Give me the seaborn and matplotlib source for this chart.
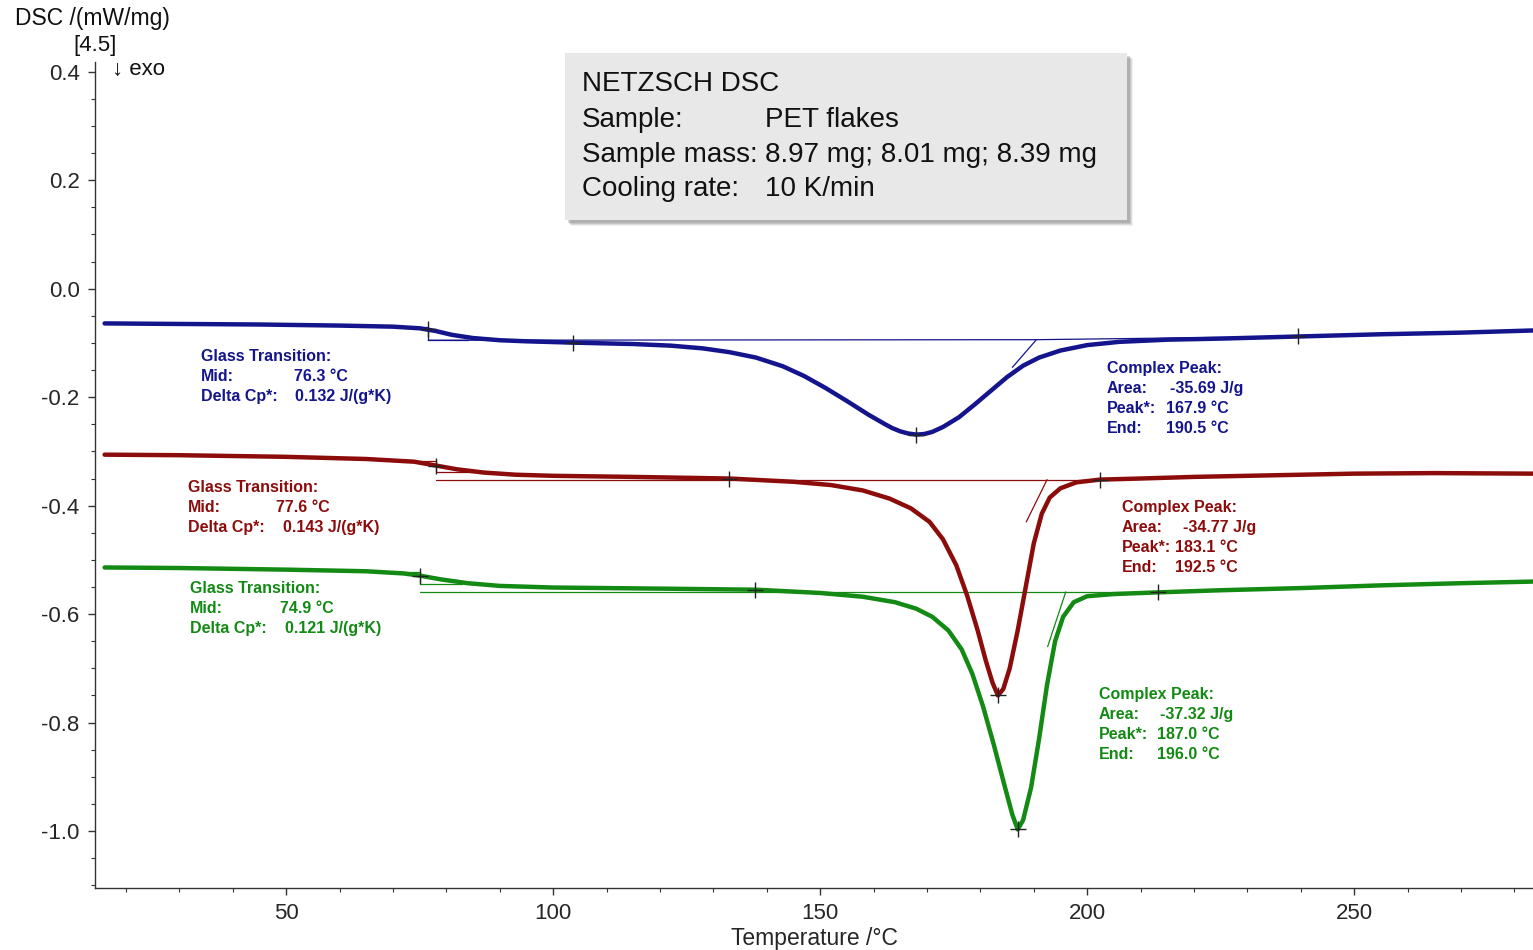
import numpy as np
import pandas as pd
import matplotlib
matplotlib.use("Agg")
import matplotlib.pyplot as plt
import seaborn as sns
from matplotlib.patches import Rectangle
from matplotlib.ticker import MultipleLocator, FormatStrFormatter

# ---------------- data ----------------
blue_T = [16, 30, 45, 60, 70, 75, 78, 81, 85, 90, 95, 104, 115, 122, 128, 133, 138, 143, 147, 151,
          155, 159, 162, 163.5, 165, 166.5, 168, 169.5, 171, 173, 176, 179, 182, 185, 188, 191, 195,
          200, 206, 215, 225, 240, 255, 270, 283.5]
blue_dsc = [-0.064, -0.065, -0.066, -0.068, -0.070, -0.073, -0.078, -0.085, -0.091, -0.095, -0.097,
            -0.0995, -0.102, -0.105, -0.110, -0.117, -0.127, -0.143, -0.161, -0.183, -0.207, -0.232,
            -0.249, -0.257, -0.263, -0.267, -0.269, -0.268, -0.264, -0.255, -0.237, -0.213, -0.188,
            -0.163, -0.142, -0.127, -0.114, -0.104, -0.098, -0.094, -0.092, -0.088, -0.084, -0.081,
            -0.077]

red_T = [16, 30, 50, 65, 74, 78, 82, 87, 93, 100, 115, 133, 145, 152, 158, 163, 167, 170.5, 173,
         175.5, 177.5, 179.5, 181, 182.3, 183.3, 184.3, 185.5, 187, 188.5, 190, 191.5, 193, 195, 198,
         202.4, 210, 220, 235, 250, 265, 283.5]
red_dsc = [-0.306, -0.307, -0.310, -0.314, -0.319, -0.326, -0.333, -0.339, -0.343, -0.345, -0.347,
           -0.350, -0.356, -0.362, -0.372, -0.387, -0.405, -0.430, -0.462, -0.510, -0.565, -0.630,
           -0.685, -0.727, -0.750, -0.738, -0.700, -0.630, -0.550, -0.470, -0.415, -0.385, -0.368,
           -0.357, -0.352, -0.350, -0.347, -0.344, -0.341, -0.340, -0.341]

green_T = [16, 30, 50, 65, 72, 75, 79, 84, 90, 100, 120, 138, 150, 158, 164, 168, 171, 174, 176.5,
           178.5, 180.5, 182.5, 184.5, 186, 187, 188, 189.5, 191, 192.5, 194, 195.5, 197.5, 200, 205,
           213, 225, 240, 255, 270, 283.5]
green_dsc = [-0.514, -0.515, -0.518, -0.521, -0.525, -0.529, -0.536, -0.543, -0.548, -0.551, -0.553,
             -0.555, -0.561, -0.568, -0.578, -0.590, -0.605, -0.630, -0.665, -0.710, -0.770, -0.840,
             -0.915, -0.970, -0.997, -0.980, -0.920, -0.830, -0.730, -0.650, -0.605, -0.578, -0.567,
             -0.563, -0.560, -0.556, -0.552, -0.547, -0.543, -0.540]

samples = ["Sample 1", "Sample 2", "Sample 3"]
colors = ["#14148c", "#8c0c0c", "#138a13"]

# evaluation markers (+)
blue_marks_T = [76.6, 103.7, 168.0, 239.5]
blue_marks_y = [-0.074, -0.0995, -0.269, -0.088]
red_marks_T = [78.0, 133.0, 183.3, 202.4]
red_marks_y = [-0.326, -0.350, -0.750, -0.352]
green_marks_T = [75.1, 137.8, 187.0, 213.3]
green_marks_y = [-0.529, -0.555, -0.997, -0.560]

# construction lines (baselines / tangents / glass-transition steps)
blue_base_T = [76.6, 190.5, 239.5]
blue_base_y = [-0.095, -0.094, -0.088]
blue_tan_T = [186.0, 190.5]
blue_tan_y = [-0.145, -0.094]
blue_step_T = [70.0, 76.6, 76.6, 84.0]
blue_step_y = [-0.071, -0.071, -0.095, -0.095]

red_base_T = [78.0, 202.4]
red_base_y = [-0.352, -0.352]
red_tan_T = [188.6, 192.5]
red_tan_y = [-0.43, -0.352]
red_step_T = [72.0, 78.0, 78.0, 86.0]
red_step_y = [-0.318, -0.318, -0.338, -0.338]

green_base_T = [75.1, 213.3]
green_base_y = [-0.559, -0.559]
green_tan_T = [192.6, 196.0]
green_tan_y = [-0.66, -0.559]
green_step_T = [69.0, 75.1, 75.1, 83.0]
green_step_y = [-0.523, -0.523, -0.545, -0.545]

yticks = [0.4, 0.2, 0.0, -0.2, -0.4, -0.6, -0.8, -1.0]
xticks = [50, 100, 150, 200, 250]

gt_labels = ["Glass Transition:", "Mid:", "Delta Cp*:"]
gt_values = [["76.3 °C", "0.132 J/(g*K)"], ["77.6 °C", "0.143 J/(g*K)"], ["74.9 °C", "0.121 J/(g*K)"]]
cp_labels = ["Complex Peak:", "Area:", "Peak*:", "End:"]
cp_values = [["-35.69 J/g", "167.9 °C", "190.5 °C"],
             ["-34.77 J/g", "183.1 °C", "192.5 °C"],
             ["-37.32 J/g", "187.0 °C", "196.0 °C"]]

info_keys = ["Sample:", "Sample mass:", "Cooling rate:"]
info_vals = ["PET flakes", "8.97 mg; 8.01 mg; 8.39 mg", "10 K/min"]

# ---------------- style ----------------
sns.set_style("ticks")
plt.rcParams["font.family"] = ["Liberation Sans", "DejaVu Sans"]
plt.rcParams["axes.unicode_minus"] = False

fig = plt.figure(figsize=(15.33, 9.5), dpi=100)
ax = fig.add_axes([95 / 1533, 1 - 888 / 950, 1 - 95 / 1533, (888 - 62) / 950])

df = pd.concat([
    pd.DataFrame({"T": blue_T, "DSC": blue_dsc, "sample": samples[0]}),
    pd.DataFrame({"T": red_T, "DSC": red_dsc, "sample": samples[1]}),
    pd.DataFrame({"T": green_T, "DSC": green_dsc, "sample": samples[2]}),
])

# construction lines (thin)
for (bt, by, tt, ty, st, sy), c in zip(
        [(blue_base_T, blue_base_y, blue_tan_T, blue_tan_y, blue_step_T, blue_step_y),
         (red_base_T, red_base_y, red_tan_T, red_tan_y, red_step_T, red_step_y),
         (green_base_T, green_base_y, green_tan_T, green_tan_y, green_step_T, green_step_y)], colors):
    ax.plot(bt, by, color=c, lw=0.9, zorder=2)
    ax.plot(tt, ty, color=c, lw=0.9, zorder=2)
    ax.plot(st, sy, color=c, lw=0.9, zorder=2)

sns.lineplot(data=df, x="T", y="DSC", hue="sample", palette=colors, sort=False,
             estimator=None, linewidth=3.2, legend=False, ax=ax, zorder=3)
for ln in ax.get_lines():
    ln.set_solid_joinstyle("round")
    ln.set_solid_capstyle("round")

for mt, my in [(blue_marks_T, blue_marks_y), (red_marks_T, red_marks_y), (green_marks_T, green_marks_y)]:
    ax.scatter(mt, my, marker="+", s=120, color="#222222", linewidths=1.0, zorder=5)

ax.set_xlim(14.2, 283.5)
ax.set_ylim(-1.105, 0.418)
ax.set_xticks(xticks)
ax.set_yticks(yticks)
ax.xaxis.set_minor_locator(MultipleLocator(10))
ax.yaxis.set_minor_locator(MultipleLocator(0.05))
ax.yaxis.set_major_formatter(FormatStrFormatter("%.1f"))
ax.tick_params(axis="both", which="major", labelsize=16, length=5, width=1, direction="out", color="#333333", pad=6)
ax.tick_params(axis="both", which="minor", length=3, width=0.8, direction="out", color="#333333")
for s in ["top", "right"]:
    ax.spines[s].set_visible(False)
for s in ["left", "bottom"]:
    ax.spines[s].set_linewidth(1.0)
    ax.spines[s].set_color("#333333")
ax.set_xlabel("Temperature /°C", fontsize=16.5, labelpad=2)
ax.set_ylabel("")

# ---------------- annotations ----------------
fs = 11.5
lh = 0.0369
gt_pos = [(34.1, -0.125, 51.5, 51.7), (31.6, -0.367, 48.1, 49.4), (32.0, -0.553, 48.8, 49.7)]
for (x0, y0, xv1, xv2), vals, c in zip(gt_pos, gt_values, colors):
    ax.text(x0, y0, gt_labels[0], color=c, fontsize=fs, fontweight="bold", va="center")
    ax.text(x0, y0 - lh, gt_labels[1], color=c, fontsize=fs, fontweight="bold", va="center")
    ax.text(x0, y0 - 2 * lh, gt_labels[2], color=c, fontsize=fs, fontweight="bold", va="center")
    ax.text(xv1, y0 - lh, vals[0], color=c, fontsize=fs, fontweight="bold", va="center")
    ax.text(xv2, y0 - 2 * lh, vals[1], color=c, fontsize=fs, fontweight="bold", va="center")

cp_pos = [(203.7, -0.147, 215.5, 214.7), (206.5, -0.403, 217.9, 216.4), (202.2, -0.749, 213.6, 213.0)]
for (x0, y0, xa, xv), vals, c in zip(cp_pos, cp_values, colors):
    ax.text(x0, y0, cp_labels[0], color=c, fontsize=fs, fontweight="bold", va="center")
    for i in range(1, 4):
        ax.text(x0, y0 - i * lh, cp_labels[i], color=c, fontsize=fs, fontweight="bold", va="center")
    ax.text(xa, y0 - lh, vals[0], color=c, fontsize=fs, fontweight="bold", va="center")
    ax.text(xv, y0 - 2 * lh, vals[1], color=c, fontsize=fs, fontweight="bold", va="center")
    ax.text(xv, y0 - 3 * lh, vals[2], color=c, fontsize=fs, fontweight="bold", va="center")

# header texts
fig.text(15 / 1533, 1 - 19 / 950, "DSC /(mW/mg)", fontsize=16.5, va="center", ha="left", color="#111111")
fig.text(95 / 1533, 1 - 46 / 950, "[4.5]", fontsize=16, va="center", ha="center", color="#111111")
fig.text(112 / 1533, 1 - 70 / 950, "↓ exo", fontsize=16, va="center", ha="left", color="#111111",
         family=["Liberation Sans", "DejaVu Sans"])

# info box with soft shadow
W = (1127 - 565) / 1533
H = (220 - 53) / 950
for k, a in [(6, 0.10), (5, 0.15), (4, 0.20), (3, 0.25)]:
    fig.patches.append(Rectangle(((565 + k) / 1533, 1 - (220 + k) / 950), W, H,
                                 transform=fig.transFigure, facecolor="#707070", edgecolor="none",
                                 alpha=a, zorder=1))
fig.patches.append(Rectangle((565 / 1533, 1 - 220 / 950), W, H,
                             transform=fig.transFigure, facecolor="#e8e8e8", edgecolor="none",
                             zorder=2))
fig.text(582 / 1533, 1 - 84 / 950, "NETZSCH DSC", fontsize=20, va="center", ha="left", color="#111111", zorder=3)
for i, (k, v) in enumerate(zip(info_keys, info_vals)):
    yy = 1 - (120 + i * 34.5) / 950
    fig.text(582 / 1533, yy, k, fontsize=20, va="center", ha="left", color="#111111", zorder=3)
    fig.text(765 / 1533, yy, v, fontsize=20, va="center", ha="left", color="#111111", zorder=3)

fig.savefig("out.png", dpi=100)
